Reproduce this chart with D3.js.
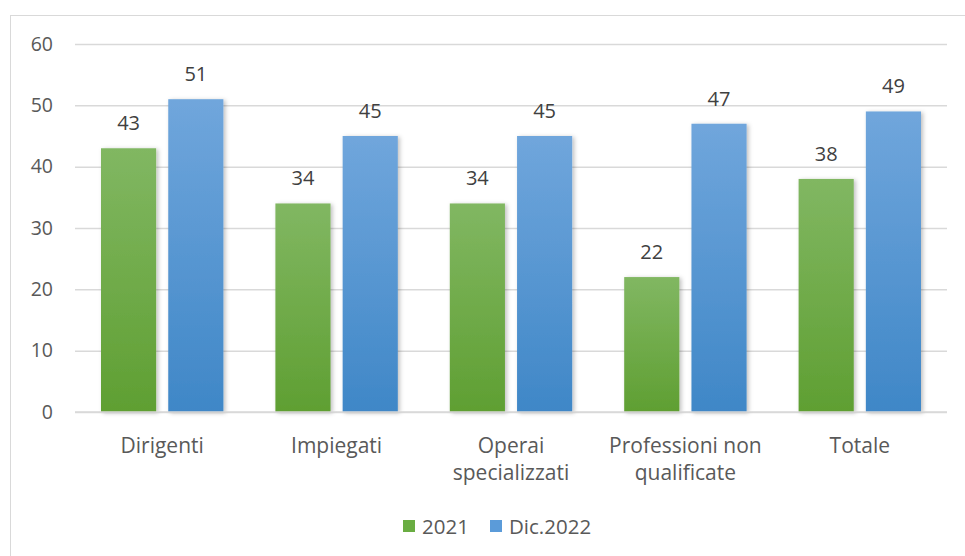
<!DOCTYPE html>
<html><head><meta charset="utf-8">
<script src="https://cdn.jsdelivr.net/npm/d3@7"></script>
<style>body{margin:0;background:#fff}svg{display:block}</style>
</head><body>
<svg id="c" width="965" height="556"></svg>
<script>
const categories = [["Dirigenti"],["Impiegati"],["Operai","specializzati"],["Professioni non","qualificate"],["Totale"]];
const series = ["2021","Dic.2022"];
const values2021 = [43,34,34,22,38];
const values2022 = [51,45,45,47,49];
const yTicks = [0,10,20,30,40,50,60];

const svg = d3.select("#c");
const font = "'Open Sans', sans-serif";
const defs = svg.append("defs");
function grad(id, top, bot){
  const g = defs.append("linearGradient").attr("id",id).attr("x1",0).attr("y1",0).attr("x2",0).attr("y2",1);
  g.append("stop").attr("offset","0%").attr("stop-color",top);
  g.append("stop").attr("offset","100%").attr("stop-color",bot);
}
grad("gG","#81b762","#5f9f32");
grad("gB","#70a6dc","#3f87c7");
const f = defs.append("filter").attr("id","sh").attr("x","-20%").attr("y","-10%").attr("width","150%").attr("height","130%");
f.append("feDropShadow").attr("dx",2).attr("dy",1).attr("stdDeviation",2).attr("flood-color","#000").attr("flood-opacity",0.25);

svg.append("rect").attr("x",10.5).attr("y",15.5).attr("width",1000).attr("height",600)
  .attr("fill","#fff").attr("stroke","#d9d9d9").attr("stroke-width",1);

const x0 = d3.scaleBand().domain(d3.range(categories.length)).range([75,947]).paddingInner(0).paddingOuter(0);
const x1 = d3.scaleBand().domain(series).range([26, x0.bandwidth()-26]).paddingInner(0.18);
const y = d3.scaleLinear().domain([0,60]).range([412,44]);

const yAxis = d3.axisLeft(y).tickValues(yTicks).tickSize(-(947-75)).tickPadding(22);
const ga = svg.append("g").attr("transform","translate(75,0)").call(yAxis);
ga.select(".domain").remove();
ga.selectAll(".tick line").attr("stroke","#d9d9d9").attr("stroke-width",1.5);
ga.selectAll(".tick text").attr("fill","#595959").style("font-family",font).style("font-size","19.5px");

const data = categories.map((c,i)=>({i, vals:[{s:series[0],v:values2021[i]},{s:series[1],v:values2022[i]}]}));
const g = svg.append("g");
const cg = g.selectAll("g.cat").data(data).join("g").attr("transform",d=>`translate(${x0(d.i)},0)`);
cg.selectAll("rect").data(d=>d.vals).join("rect")
  .attr("x",d=>x1(d.s)).attr("width",x1.bandwidth())
  .attr("y",d=>y(d.v)).attr("height",d=>y(0)-y(d.v))
  .attr("fill",d=>d.s===series[0]?"url(#gG)":"url(#gB)")
  .attr("filter","url(#sh)");
cg.selectAll("text.lbl").data(d=>d.vals).join("text").attr("class","lbl")
  .attr("x",d=>x1(d.s)+x1.bandwidth()/2).attr("y",d=>y(d.v)-18)
  .attr("text-anchor","middle").attr("fill","#404040")
  .style("font-family",font).style("font-size","20px").text(d=>d.v);

// baseline
svg.append("line").attr("x1",75).attr("x2",947).attr("y1",y(0)).attr("y2",y(0)).attr("stroke","#d9d9d9").attr("stroke-width",1.5);

// category labels
const xAxis = d3.axisBottom(x0).tickSize(0).tickFormat("");
svg.append("g").attr("transform",`translate(0,${y(0)})`).call(xAxis).select(".domain").remove();
cg.append("text").attr("x",x0.bandwidth()/2).attr("text-anchor","middle").attr("fill","#595959")
  .style("font-family",font).style("font-size","21px")
  .selectAll("tspan").data(d=>categories[d.i]).join("tspan")
  .attr("x",x0.bandwidth()/2).attr("y",(d,k)=>453+k*27).text(d=>d);

// legend
const leg = svg.append("g");
const items = [{s:series[0],c:"#6aad42",x:403},{s:series[1],c:"#5b9bd9",x:490}];
items.forEach(it=>{
  leg.append("rect").attr("x",it.x).attr("y",520).attr("width",12).attr("height",12).attr("fill",it.c);
  leg.append("text").attr("x",it.x+19).attr("y",534).attr("fill","#595959")
    .style("font-family",font).style("font-size","20.5px").text(it.s);
});
</script>
</body></html>
